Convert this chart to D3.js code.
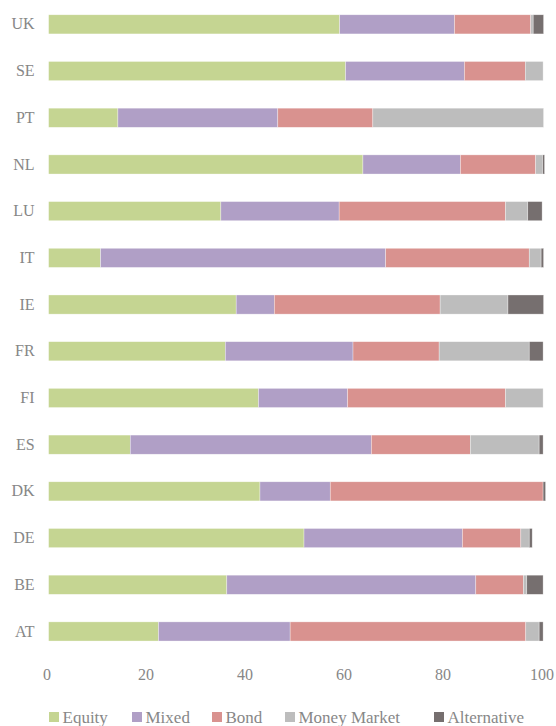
<!DOCTYPE html>
<html>
<head>
<meta charset="utf-8">
<script src="https://cdn.jsdelivr.net/npm/d3@7"></script>
<style>
  body { margin: 0; background: #fff; }
  text { font-family: "Liberation Serif", "Times New Roman", serif; fill: #878787; }
</style>
</head>
<body>
<div id="chart"></div>
<script>
// Countries, top to bottom
const countries = ["UK", "SE", "PT", "NL", "LU", "IT", "IE", "FR", "FI", "ES", "DK", "DE", "BE", "AT"]

const seriesNames = ["Equity", "Mixed", "Bond", "Money Market", "Alternative"]
const seriesColors = ["#c5d592", "#b09fc6", "#d9928f", "#bdbdbd", "#766f6f"]

// Shares in % per country (same order as countries)
const equity      = [58.8, 60.0, 14.0, 63.5, 34.8, 10.5, 37.9, 35.7, 42.4, 16.5, 42.7, 51.6, 36.0, 22.2]
const mixed       = [23.2, 24.0, 32.3, 19.7, 23.9, 57.6,  7.7, 25.8, 18.0, 48.7, 14.2, 32.0, 50.3, 26.6]
const bond        = [15.4, 12.3, 19.2, 15.2, 33.6, 29.0, 33.5, 17.4, 31.9, 20.0, 43.0, 11.8,  9.6, 47.6]
const moneyMarket = [ 0.5,  3.6, 34.5,  1.4,  4.5,  2.4, 13.7, 18.2,  7.6, 13.9,  0.0,  1.7,  0.7,  2.7]
const alternative = [ 2.1,  0.0,  0.0,  0.4,  2.9,  0.5,  7.2,  2.8,  0.0,  0.8,  0.5,  0.6,  3.3,  0.8]

const xTicks = [0, 20, 40, 60, 80, 100]

const totalWidth = 556, totalHeight = 726
const margin = { top: 1, right: 12, bottom: 71, left: 48.6 }
const width = totalWidth - margin.left - margin.right
const height = totalHeight - margin.top - margin.bottom

// legend item offsets (layout)
const legendX = [49, 132, 212, 285, 434]

// build table for stacking
const table = countries.map((c, i) => ({
   country: c,
   "Equity": equity[i],
   "Mixed": mixed[i],
   "Bond": bond[i],
   "Money Market": moneyMarket[i],
   "Alternative": alternative[i]
}))

const stacked = d3.stack().keys(seriesNames)(table)

let x = d3.scaleLinear().domain([0, 100]).range([0, 495])
let y = d3.scaleBand().domain(countries).range([0, height - 0.2])
   .paddingInner(0.59).paddingOuter(0.295)
let color = d3.scaleOrdinal().domain(seriesNames).range(seriesColors)

let svg = d3.select("#chart").append("svg")
   .attr("width", totalWidth)
   .attr("height", totalHeight)

let g = svg.append("g")
   .attr("transform", "translate(" + margin.left + "," + margin.top + ")")

// Bars
g.selectAll("g.series").data(stacked)
   .join("g")
   .attr("class", "series")
   .attr("fill", d => color(d.key))
   .selectAll("rect").data(d => d)
   .join("rect")
   .attr("x", d => x(d[0]))
   .attr("y", d => y(d.data.country))
   .attr("width", d => Math.max(0, x(d[1]) - x(d[0])))
   .attr("height", y.bandwidth())
   .attr("stroke", "rgba(255,255,255,0.55)")
   .attr("stroke-width", 0.6)

// Country labels
let yAxis = d3.axisLeft(y).tickSize(0).tickPadding(14)
let yG = g.append("g").call(yAxis)
yG.select(".domain").remove()
yG.selectAll("text")
   .style("font-size", "16px")
   .attr("fill", "#878787")
   .style("font-family", "'Liberation Serif', serif")

// X axis labels
let xAxis = d3.axisBottom(x).tickValues(xTicks).tickSize(0).tickPadding(0)
let xG = g.append("g")
   .attr("transform", "translate(0," + (height + 14) + ")")
   .call(xAxis)
xG.select(".domain").remove()
xG.selectAll("text")
   .style("font-size", "16px")
   .attr("fill", "#878787")
   .attr("dx", "-2")
   .style("font-family", "'Liberation Serif', serif")

// Legend
let legend = svg.append("g").attr("transform", "translate(0,717)")
seriesNames.forEach((name, i) => {
   let item = legend.append("g").attr("transform", "translate(" + legendX[i] + ",0)")
   item.append("rect")
      .attr("x", 0).attr("y", -5)
      .attr("width", 10).attr("height", 10)
      .attr("fill", seriesColors[i])
   item.append("text")
      .attr("x", 13.5).attr("y", 5.8)
      .style("font-size", "17px")
      .text(name)
})
</script>
</body>
</html>
